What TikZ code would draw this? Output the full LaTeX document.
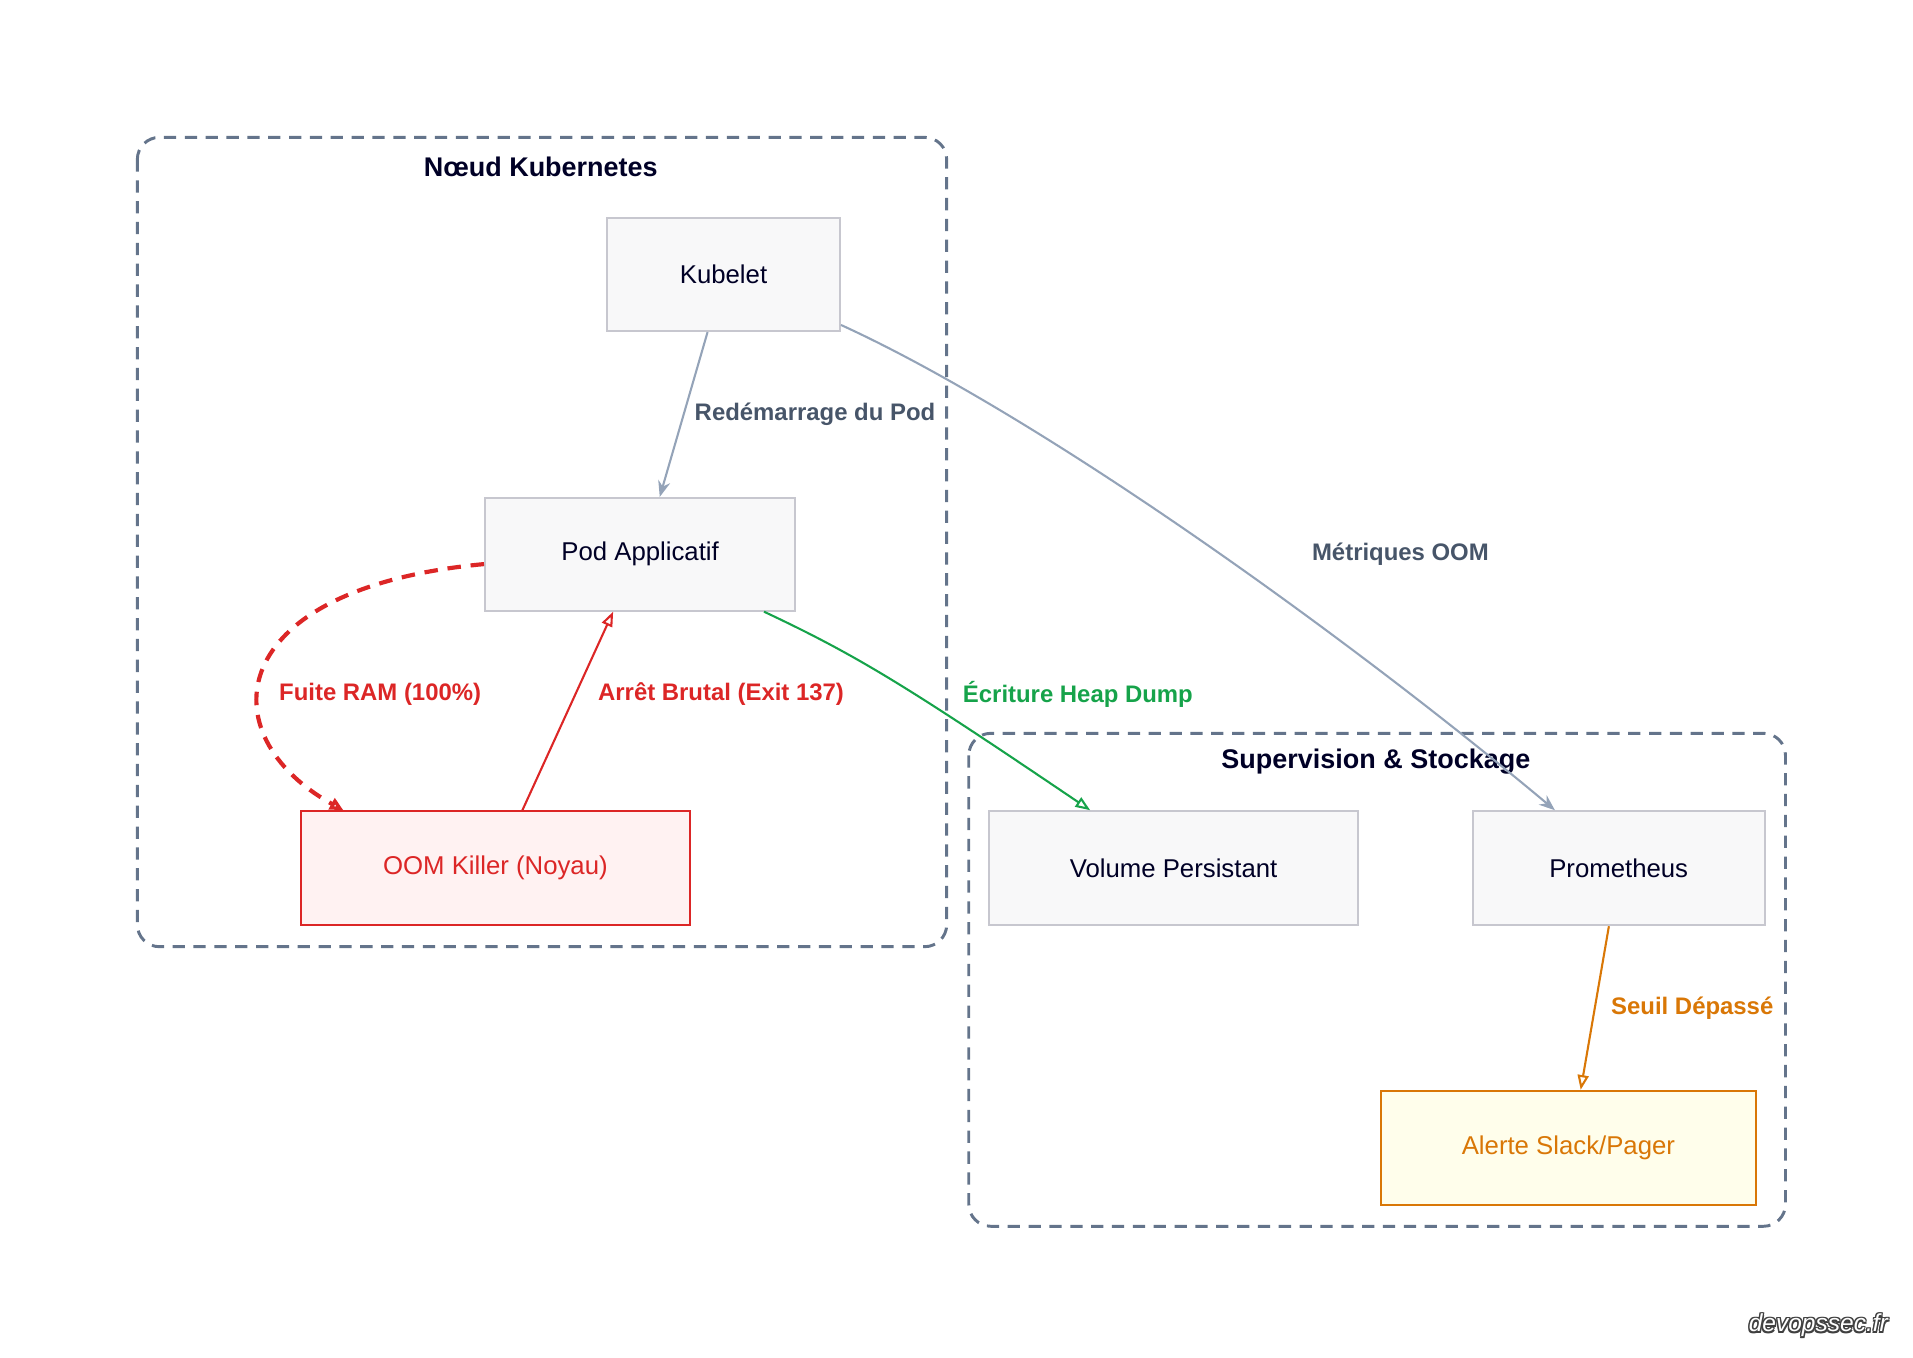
\documentclass[tikz,border=0pt]{standalone}
\usepackage{fontspec}
\setmainfont{Liberation Sans}
\usepackage{xcolor}
\usetikzlibrary{shapes.geometric, arrows, arrows.meta, positioning}
\definecolor{slate}{HTML}{64748B}
\definecolor{edgegray}{HTML}{94A3B8}
\definecolor{labgray}{HTML}{475569}
\definecolor{oomred}{HTML}{DC2626}
\definecolor{okgreen}{HTML}{16A34A}
\definecolor{warnorange}{HTML}{D97706}
\begin{document}
\begin{tikzpicture}[
    x=1pt, y=-1pt,
    cluster/.style={draw=slate, dash pattern=on 10pt off 7pt, line width=2.4pt, rounded corners=18pt},
    title/.style={font=\fontsize{22}{26}\selectfont\bfseries, text=black!85!blue},
    box/.style={rectangle, draw=black!20!blue!10!gray!40, fill=blue!2!gray!5, line width=1.6pt, align=center, font=\fontsize{21}{25}\selectfont, text=black!85!blue},
    lab/.style={font=\fontsize{19.5}{23}\selectfont\bfseries},
    arrow/.style={-{Stealth[length=13pt,width=10pt]}, line width=1.7pt, edgegray},
    wmark/.style={font=\fontsize{20}{24}\selectfont\itshape, anchor=east}
]
\useasboundingbox (0,0) rectangle (1560,1107);

% groupes
\draw[cluster] (112,112) rectangle (772,772);
\node[title] (t1) at (441,136) {Nœud Kubernetes};
\draw[cluster] (790,598) rectangle (1456,1000);
\node[title] (t2) at (1122,621) {Supervision \& Stockage};

% composants
\node[box, minimum width=190pt, minimum height=92pt] (kubelet) at (590,224) {Kubelet};
\node[box, minimum width=253pt, minimum height=92pt] (pod) at (522,452) {Pod Applicatif};
\node[box, minimum width=317pt, minimum height=93pt, draw=oomred, fill=red!5, text=oomred] (oom) at (404,708) {OOM Killer (Noyau)};
\node[box, minimum width=301pt, minimum height=93pt] (volume) at (957,708) {Volume Persistant};
\node[box, minimum width=238pt, minimum height=93pt] (prom) at (1320,708) {Prometheus};
\node[box, minimum width=306pt, minimum height=93pt, draw=warnorange, fill=yellow!8, text=warnorange] (alerte) at (1279,936) {Alerte Slack/Pager};

% flux
\draw[arrow] ([xshift=-13pt]kubelet.south) -- ([xshift=16pt]pod.north);
\node[lab, text=labgray, anchor=west] (l1) at (563,338) {Redémarrage du Pod};

\draw[arrow] ([yshift=-41pt]kubelet.east) .. controls (850,340) and (1100,520) .. ([xshift=-52pt]prom.north);
\node[lab, text=labgray] (l2) at (1142,452) {Métriques OOM};

\draw[-{Triangle[open,length=11pt,width=10pt]}, line width=3.4pt, dash pattern=on 11pt off 8pt, oomred]
  ([yshift=-8pt]pod.west) .. controls (180,480) and (170,600) .. ([xshift=-124pt]oom.north);
\node[lab, text=oomred] (l3) at (310,566) {Fuite RAM (100\%)};

\draw[-{Triangle[open,length=12pt,width=9pt]}, line width=1.7pt, oomred] ([xshift=22pt]oom.north) -- ([xshift=-22pt]pod.south);
\node[lab, text=oomred] (l4) at (588,566) {Arrêt Brutal (Exit 137)};

\draw[-{Triangle[open,length=12pt,width=9pt]}, line width=1.7pt, okgreen] ([xshift=101pt]pod.south) .. controls (700,535) and (740,560) .. ([xshift=-68pt]volume.north);
\node[lab, text=okgreen] (l5) at (879,566) {Écriture Heap Dump};

\draw[-{Triangle[open,length=12pt,width=9pt]}, line width=1.7pt, warnorange] ([xshift=-8pt]prom.south) -- ([xshift=10pt]alerte.north);
\node[lab, text=warnorange] (l6) at (1380,822) {Seuil Dépassé};

% filigrane
\foreach \dx/\dy in {-1/0, 1/0, 0/-1, 0/1, -1/-1, 1/1, -1/1, 1/-1}
  \node[wmark, text=black!75] at (1543+\dx,1081+\dy) {devopssec.fr};
\node[wmark, text=white] (wm) at (1543,1081) {devopssec.fr};
\end{tikzpicture}
\end{document}
